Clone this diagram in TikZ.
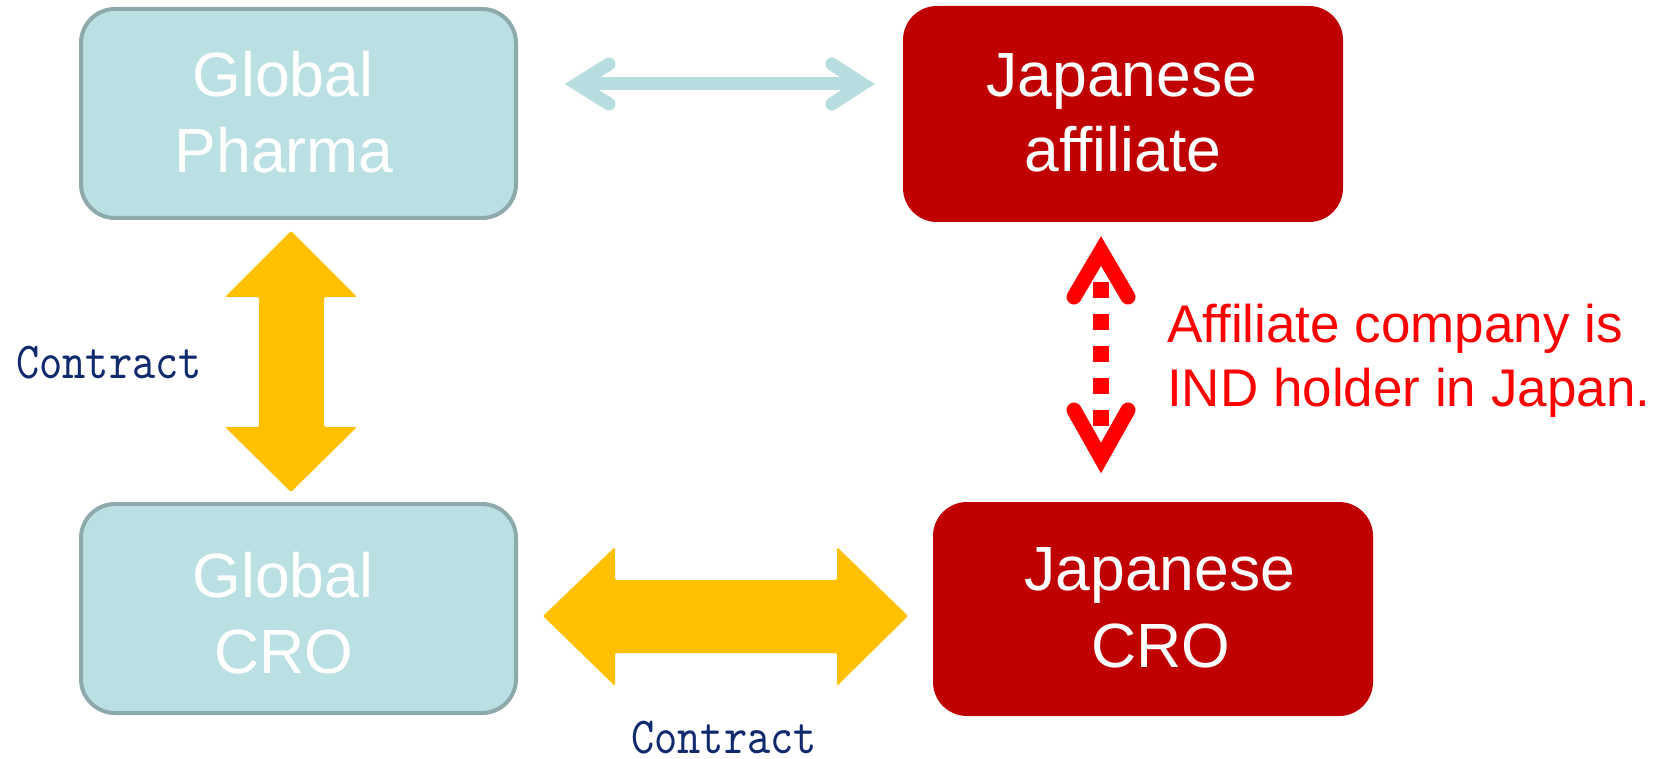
\documentclass[tikz,border=0pt]{standalone}
\usepackage{fontspec}
\setmainfont{Liberation Sans}
\newfontfamily\contractfont[FakeStretch=0.85]{lmmono10-regular.otf}
\usetikzlibrary{calc}
\definecolor{boxblue}{RGB}{187,224,227}
\definecolor{boxblueborder}{RGB}{142,169,172}
\definecolor{arrowblue}{RGB}{183,221,224}
\definecolor{boxred}{RGB}{192,0,0}
\definecolor{brightred}{RGB}{255,0,0}
\definecolor{gold}{RGB}{255,192,0}
\definecolor{navyblue}{RGB}{16,42,110}
\begin{document}
\begin{tikzpicture}[x=1pt,y=-1pt,
  bluebox/.style={draw=boxblueborder, line width=4pt, fill=boxblue, rounded corners=34pt, inner sep=0pt},
  redbox/.style={fill=boxred, rounded corners=34pt, inner sep=0pt},
  boxtext/.style={text=white, font=\fontsize{62.5}{75}\selectfont, anchor=base, inner sep=0pt},
  contractlabel/.style={text=navyblue, font=\contractfont\fontsize{52}{60}\selectfont, anchor=base, inner sep=0pt},
  notetext/.style={text=brightred, font=\fontsize{53}{64}\selectfont, anchor=base west, inner sep=0pt},
  goldarrow/.style={fill=gold, rounded corners=2pt},
  bluearrow/.style={draw=arrowblue, line width=13pt},
  redarm/.style={draw=brightred, line width=15pt, line cap=round, line join=miter},
  reddash/.style={draw=brightred, line width=16pt, dash pattern=on 16pt off 16pt}
]
\useasboundingbox (0,0) rectangle (1670,759);

% boxes
\node[bluebox, minimum width=435pt, minimum height=209pt] (gp) at (298.5,113.5) {};
\node[redbox, minimum width=440pt, minimum height=216pt] (ja) at (1123,114) {};
\node[bluebox, minimum width=435pt, minimum height=209pt] (gc) at (298.5,608.5) {};
\node[redbox, minimum width=440pt, minimum height=214pt] (jc) at (1153,609) {};

% box texts
\node[boxtext] (gp1) at (283,97) {Global};
\node[boxtext] (gp2) at (284,173) {Pharma};
\node[boxtext] (ja1) at (1122,97) {Japanese};
\node[boxtext] (ja2) at (1123,172) {affiliate};
\node[boxtext] (gc1) at (283,597) {Global};
\node[boxtext] (gc2) at (284,673) {CRO};
\node[boxtext] (jc1) at (1160,590) {Japanese};
\node[boxtext] (jc2) at (1161,667) {CRO};

% light blue double arrow between Global Pharma and Japanese affiliate
\coordinate (bl) at ($(gp.east)+(59,-29.5)$);
\coordinate (br) at ($(ja.west)+(-40,-30)$);
\draw[bluearrow, line cap=butt] (bl) -- (br);
\draw[bluearrow, line cap=round, line join=miter] ($(bl)+(32,-20)$) -- (bl) -- ($(bl)+(32,20)$);
\draw[bluearrow, line cap=round, line join=miter] ($(br)+(-31,-20)$) -- (br) -- ($(br)+(-31,20)$);

% gold vertical arrow (Global Pharma <-> Global CRO)
\coordinate (vt) at (291,231);
\coordinate (vb) at (291,492);
\fill[goldarrow] (vt) -- ($(vt)+(66,66)$) -- ($(vt)+(33,66)$) -- ($(vb)+(33,-65)$) -- ($(vb)+(66,-65)$)
  -- (vb) -- ($(vb)+(-66,-65)$) -- ($(vb)+(-32,-65)$) -- ($(vt)+(-32,66)$) -- ($(vt)+(-66,66)$) -- cycle;

% gold horizontal arrow (Global CRO <-> Japanese CRO)
\coordinate (hl) at (543,616);
\coordinate (hr) at (908,616);
\fill[goldarrow] (hl) -- ($(hl)+(72,-69)$) -- ($(hl)+(72,-36)$) -- ($(hr)+(-71,-36)$) -- ($(hr)+(-71,-69)$)
  -- (hr) -- ($(hr)+(-71,70)$) -- ($(hr)+(-71,37)$) -- ($(hl)+(72,37)$) -- ($(hl)+(72,70)$) -- cycle;

% red dashed double arrow (Japanese affiliate <-> Japanese CRO)
\coordinate (rt) at (1101,251);
\coordinate (rb) at (1101,458);
\draw[reddash] (1101,282) -- (1101,426);
\draw[redarm] ($(rt)+(-27,46)$) -- (rt) -- ($(rt)+(27,46)$);
\draw[redarm] ($(rb)+(-27,-48)$) -- (rb) -- ($(rb)+(27,-48)$);

% labels
\node[contractlabel] (c1) at (109,378) {Contract};
\node[contractlabel] (c2) at (724,753) {Contract};
\node[notetext] (n1) at (1167,342) {Affiliate company is};
\node[notetext] (n2) at (1167,406) {IND holder in Japan.};
\end{tikzpicture}
\end{document}
